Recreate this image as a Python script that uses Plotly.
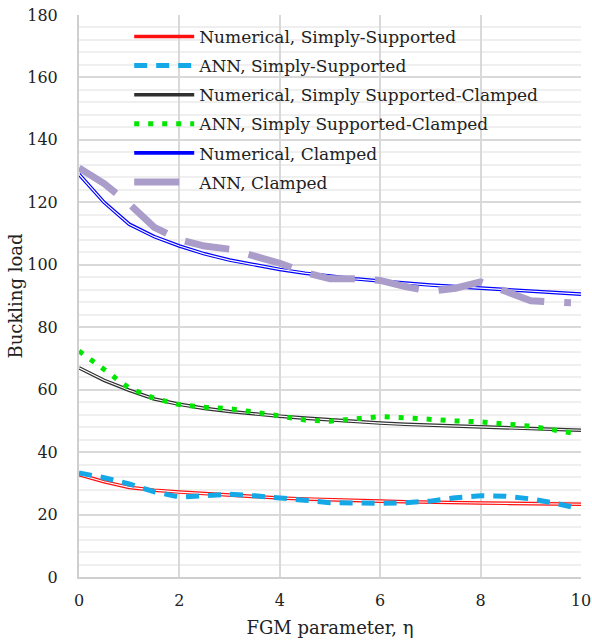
import plotly.graph_objects as go

x_num = [0, 0.5, 1, 1.5, 2, 2.5, 3, 3.5, 4, 4.5, 5, 5.5, 6, 6.5, 7, 7.5, 8, 8.5, 9, 9.5, 10]
x_ann = [0, 0.5, 1, 1.5, 2, 2.5, 3, 3.5, 4, 4.5, 5, 5.5, 6, 6.5, 7, 7.5, 8, 8.5, 9, 9.5, 9.8]

num_ss = [32.8, 30.5, 28.7, 27.8, 27.2, 26.7, 26.2, 25.7, 25.3, 25.0, 24.7, 24.5, 24.3, 24.1, 23.9, 23.8, 23.7, 23.6, 23.5, 23.4, 23.3]
ann_ss = [33.3, 31.8, 29.8, 27.3, 25.6, 26.0, 26.5, 26.0, 25.5, 24.6, 23.8, 23.5, 23.6, 23.8, 24.3, 25.4, 26.0, 25.9, 25.0, 23.6, 22.5]
num_ssc = [67, 63, 59.8, 57, 55.3, 54, 53, 52.2, 51.5, 50.9, 50.3, 49.8, 49.3, 48.9, 48.6, 48.3, 48, 47.7, 47.5, 47.2, 47]
ann_ssc = [72.4, 66.5, 60.5, 57.2, 55.2, 54.4, 53.9, 52.8, 51.5, 50.3, 49.9, 50.7, 51.4, 51.0, 50.4, 50.0, 49.7, 49.1, 48.3, 47.0, 46.2]
num_c = [129, 120, 113, 109, 106, 103.5, 101.5, 100, 98.5, 97.3, 96.3, 95.5, 94.8, 94.1, 93.5, 93, 92.5, 92, 91.5, 91, 90.6]
ann_c = [131, 126, 119.5, 112, 108, 106, 105, 103, 100.5, 97.5, 95.5, 95.5, 95, 93, 91.5, 92.5, 94.5, 91.5, 88.5, 88, 87.8]

names = ["Numerical, Simply-Supported", "ANN, Simply-Supported",
         "Numerical, Simply Supported-Clamped", "ANN, Simply Supported-Clamped",
         "Numerical, Clamped", "ANN, Clamped"]

FONT = "DejaVu Serif"
fig = go.Figure()

def num_trace(y, color, name, rank):
    fig.add_trace(go.Scatter(x=x_num, y=y, mode="lines", name=name, legendrank=rank,
                             legendgroup=str(rank),
                             line=dict(color=color, width=3.6)))
    fig.add_trace(go.Scatter(x=x_num, y=y, mode="lines", showlegend=False,
                             legendgroup=str(rank),
                             hoverinfo="skip", line=dict(color="white", width=1.2)))

def ann_trace(y, color, name, rank, width, dash):
    fig.add_trace(go.Scatter(x=x_ann, y=y, mode="lines", name=name, legendrank=rank,
                             legendgroup=str(rank),
                             line=dict(color=color, width=width, dash=dash)))

num_trace(num_ss, "#ff1010", names[0], 1)
num_trace(num_ssc, "#303030", names[2], 3)
num_trace(num_c, "#0000ff", names[4], 5)
ann_trace(ann_c, "#ab9dc9", names[5], 6, 7, "45px,20px")
ann_trace(ann_ssc, "#00e600", names[3], 4, 5, "5px,9px")
ann_trace(ann_ss, "#14a8e6", names[1], 2, 5, "13px,9px")

fig.update_layout(
    width=592, height=644,
    margin=dict(l=79, r=11, t=15, b=67),
    paper_bgcolor="white", plot_bgcolor="white",
    font=dict(family=FONT, size=17, color="#222"),
    showlegend=True,
    legend=dict(x=0.1, y=0.993, xanchor="left", yanchor="top", bgcolor="rgba(0,0,0,0)",
                font=dict(family=FONT, size=17, color="#222"), tracegroupgap=4,
                itemwidth=60),
    xaxis=dict(range=[0, 10], dtick=2, showgrid=True, gridcolor="#d9d9d9", gridwidth=1.5,
               zeroline=False, showline=True, linecolor="#cfcfcf", linewidth=2,
               ticks="", automargin=False, ticklabelstandoff=8,
               title=dict(text="FGM parameter, η", font=dict(family=FONT, size=18), standoff=12),
               tickfont=dict(family=FONT, size=16)),
    yaxis=dict(range=[0, 180], dtick=20, showgrid=True, gridcolor="#d9d9d9", gridwidth=1.5,
               zeroline=False, showline=True, linecolor="#cfcfcf", linewidth=2,
               ticks="", ticklabelstandoff=16, automargin=False,
               minor=dict(dtick=4, showgrid=True, gridcolor="#efefef", gridwidth=1.5),
               title=dict(text="Buckling load", font=dict(family=FONT, size=18), standoff=0),
               tickfont=dict(family=FONT, size=16)),
)

fig.write_html("out.html")
